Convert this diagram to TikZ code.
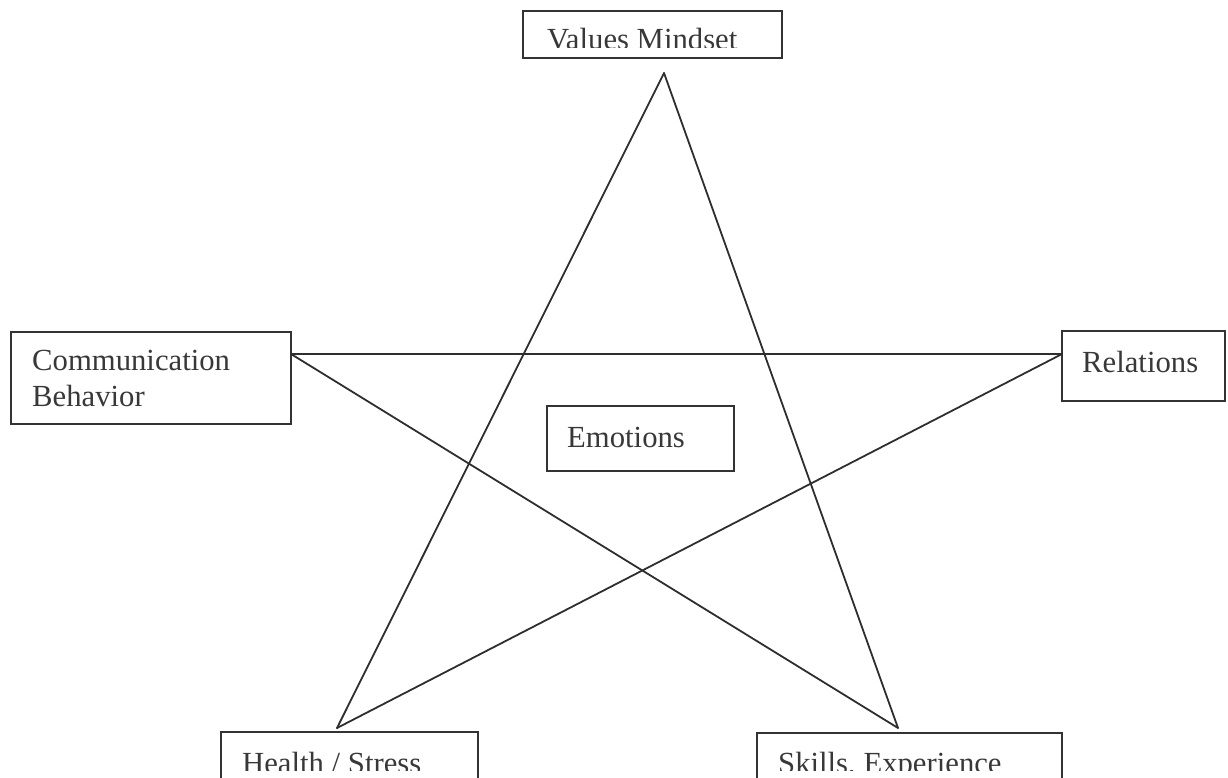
\documentclass[tikz,border=0pt]{standalone}
\usepackage{fontspec}
\setmainfont{Liberation Serif}
\begin{document}
\begin{tikzpicture}[x=1pt,y=-1pt,
  box/.style={draw=black!80, line width=2.1pt, inner sep=0pt, outer sep=0pt, anchor=north west},
  boxtext/.style={anchor=base west, inner sep=0pt, text=black!78,
    font=\fontsize{30.7}{36}\selectfont},
  edge/.style={draw=black!82, line width=1.8pt, line cap=round}]
\useasboundingbox (0,0) rectangle (1228,778);

% frames of the six text boxes
\node[box, minimum width=259pt, minimum height=47pt] (vmbox) at (523,11) {};
\node[box, minimum width=280pt, minimum height=92pt] (cbbox) at (11,332) {};
\node[box, minimum width=163pt, minimum height=70pt] (rlbox) at (1062,331) {};
\node[box, minimum width=187pt, minimum height=65pt] (embox) at (547,406) {};
\node[box, minimum width=257pt, minimum height=100pt] (hsbox) at (221,732) {};
\node[box, minimum width=305pt, minimum height=100pt] (sebox) at (757,733) {};

% texts, cut off at the inner margin of their boxes
\begin{scope}
  \clip (523,11) rectangle (782,48);
  \node[boxtext] (vmtext) at (547,50) {Values Mindset};
\end{scope}
\node[boxtext] (cbtext1) at (32,370) {Communication};
\node[boxtext] (cbtext2) at (32,406) {Behavior};
\node[boxtext] (rltext) at (1082,372) {Relations};
\node[boxtext] (emtext) at (567,447) {Emotions};
\begin{scope}
  \clip (221,732) rectangle (478,770);
  \node[boxtext] (hstext) at (242,773) {Health / Stress};
\end{scope}
\begin{scope}
  \clip (757,733) rectangle (1062,770);
  \node[boxtext] (setext) at (778,773) {Skills, Experience};
\end{scope}

% the five points of the star
\coordinate (top) at (664,73);
\coordinate (left) at (cbbox.east |- 0,354);
\coordinate (right) at (rlbox.west |- 0,354);
\coordinate (botleft) at (337,728);
\coordinate (botright) at (898,728);

\draw[edge] (top) -- (botleft);
\draw[edge] (top) -- (botright);
\draw[edge] (left) -- (right);
\draw[edge] (left) -- (botright);
\draw[edge] (right) -- (botleft);
\end{tikzpicture}
\end{document}
